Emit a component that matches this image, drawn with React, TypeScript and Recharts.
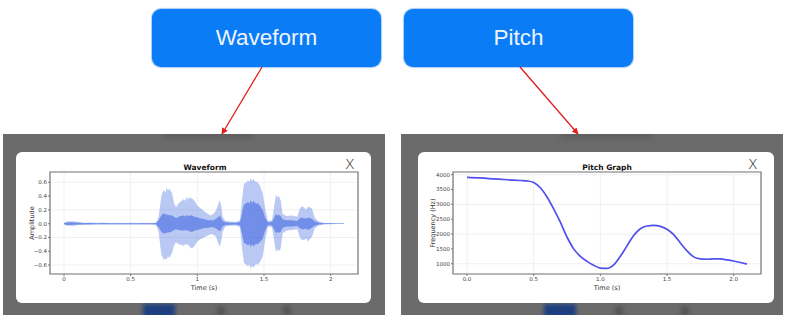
import React from 'react';
import { ComposedChart, Area, Line, XAxis, YAxis, CartesianGrid, ReferenceArea } from 'recharts';

// waveform envelope (seconds / amplitude)
const waveTime = [
  0.0, 0.02, 0.05, 0.08, 0.11, 0.15, 0.2, 0.25, 0.3, 0.35, 0.4, 0.45, 0.5, 0.55, 0.6, 0.65, 0.69,
  0.71, 0.73, 0.74, 0.75, 0.76, 0.77, 0.78, 0.79, 0.8, 0.81, 0.825, 0.84, 0.86, 0.88, 0.9, 0.91, 0.92, 0.93, 0.94, 0.96, 0.98,
  1.0, 1.02, 1.04, 1.06, 1.08, 1.1, 1.12, 1.14, 1.16, 1.17, 1.18, 1.19, 1.21, 1.25, 1.29, 1.32,
  1.335, 1.35, 1.37, 1.38, 1.39, 1.4, 1.41, 1.42, 1.44, 1.45, 1.47, 1.49, 1.51, 1.53, 1.56, 1.58, 1.59, 1.6, 1.61, 1.625, 1.64,
  1.67, 1.71, 1.75, 1.765, 1.78, 1.8, 1.815, 1.83, 1.86, 1.88, 1.91, 1.95, 2.0, 2.05, 2.1,
];
const waveHigh = [
  0.01, 0.03, 0.035, 0.03, 0.025, 0.015, 0.018, 0.012, 0.015, 0.01, 0.012, 0.01, 0.012, 0.01, 0.012, 0.01, 0.015,
  0.1, 0.4, 0.46, 0.49, 0.45, 0.52, 0.48, 0.51, 0.47, 0.45, 0.3, 0.24, 0.3, 0.33, 0.36, 0.33, 0.39, 0.35, 0.38, 0.37, 0.33,
  0.26, 0.23, 0.2, 0.17, 0.14, 0.12, 0.14, 0.19, 0.3, 0.34, 0.25, 0.1, 0.04, 0.03, 0.025, 0.05,
  0.35, 0.58, 0.6, 0.63, 0.6, 0.66, 0.62, 0.65, 0.6, 0.61, 0.55, 0.44, 0.2, 0.04, 0.05, 0.3, 0.42, 0.38, 0.4, 0.34, 0.14,
  0.11, 0.12, 0.1, 0.2, 0.25, 0.24, 0.2, 0.25, 0.22, 0.09, 0.03, 0.015, 0.01, 0.008, 0.005,
];
const waveLow = [
  -0.01, -0.03, -0.03, -0.03, -0.02, -0.015, -0.015, -0.012, -0.012, -0.01, -0.012, -0.01, -0.01, -0.01, -0.012, -0.01, -0.015,
  -0.12, -0.45, -0.49, -0.53, -0.5, -0.52, -0.47, -0.5, -0.46, -0.42, -0.32, -0.27, -0.3, -0.31, -0.32, -0.29, -0.31, -0.3, -0.33, -0.36, -0.32,
  -0.26, -0.23, -0.21, -0.19, -0.17, -0.15, -0.16, -0.19, -0.3, -0.33, -0.24, -0.12, -0.04, -0.03, -0.025, -0.05,
  -0.35, -0.57, -0.6, -0.62, -0.59, -0.65, -0.61, -0.64, -0.58, -0.6, -0.56, -0.48, -0.22, -0.04, -0.05, -0.3, -0.41, -0.37, -0.4, -0.36, -0.14,
  -0.1, -0.09, -0.08, -0.18, -0.23, -0.24, -0.21, -0.26, -0.19, -0.07, -0.025, -0.012, -0.008, -0.006, -0.005,
];
const coreHigh = [
  0.005, 0.018, 0.02, 0.018, 0.014, 0.01, 0.01, 0.008, 0.01, 0.007, 0.008, 0.007, 0.008, 0.007, 0.008, 0.007, 0.01,
  0.05, 0.12, 0.14, 0.15, 0.13, 0.14, 0.12, 0.13, 0.12, 0.12, 0.1, 0.08, 0.1, 0.11, 0.12, 0.1, 0.13, 0.11, 0.12, 0.12, 0.1,
  0.09, 0.08, 0.07, 0.06, 0.05, 0.05, 0.05, 0.07, 0.1, 0.12, 0.08, 0.04, 0.02, 0.015, 0.012, 0.025,
  0.15, 0.28, 0.3, 0.32, 0.29, 0.34, 0.3, 0.33, 0.29, 0.3, 0.26, 0.2, 0.08, 0.02, 0.025, 0.1, 0.14, 0.12, 0.13, 0.11, 0.06,
  0.05, 0.05, 0.04, 0.07, 0.09, 0.08, 0.07, 0.09, 0.07, 0.035, 0.015, 0.008, 0.006, 0.004, 0.003,
];
const coreLow = [
  -0.005, -0.018, -0.018, -0.016, -0.012, -0.01, -0.009, -0.008, -0.008, -0.007, -0.008, -0.007, -0.007, -0.007, -0.008, -0.007, -0.01,
  -0.05, -0.12, -0.13, -0.15, -0.13, -0.14, -0.12, -0.13, -0.12, -0.11, -0.09, -0.08, -0.09, -0.1, -0.1, -0.09, -0.1, -0.1, -0.11, -0.12, -0.1,
  -0.09, -0.08, -0.07, -0.06, -0.06, -0.05, -0.05, -0.07, -0.1, -0.11, -0.08, -0.04, -0.02, -0.015, -0.012, -0.025,
  -0.15, -0.28, -0.3, -0.32, -0.29, -0.34, -0.3, -0.33, -0.29, -0.3, -0.27, -0.22, -0.09, -0.02, -0.025, -0.1, -0.14, -0.12, -0.13, -0.12, -0.06,
  -0.04, -0.04, -0.035, -0.06, -0.08, -0.08, -0.07, -0.09, -0.06, -0.03, -0.012, -0.006, -0.004, -0.003, -0.003,
];

// pitch curve (seconds / Hz)
const pitchTime = [
  0.0, 0.1, 0.2, 0.3, 0.4, 0.45, 0.5, 0.55, 0.6, 0.65, 0.7, 0.75, 0.8, 0.85, 0.9, 0.95, 1.0, 1.05,
  1.1, 1.15, 1.2, 1.25, 1.3, 1.35, 1.4, 1.45, 1.5, 1.55, 1.6, 1.65, 1.7, 1.75, 1.8, 1.85, 1.9, 1.95,
  2.0, 2.05, 2.1,
];
const pitchHz = [
  3910, 3890, 3860, 3830, 3805, 3790, 3740, 3560, 3250, 2850, 2400, 1900, 1500, 1250, 1080, 950, 850, 840,
  960, 1250, 1600, 1950, 2180, 2270, 2290, 2260, 2160, 1980, 1700, 1430, 1230, 1160, 1150, 1160, 1160, 1130,
  1090, 1040, 990,
];

const waveTicksX = [0, 0.5, 1, 1.5, 2];
const waveTicksY = [-0.6, -0.4, -0.2, 0, 0.2, 0.4, 0.6];
const pitchTicksX = [0, 0.5, 1, 1.5, 2];
const pitchTicksY = [1000, 1500, 2000, 2500, 3000, 3500, 4000];

const waveData = waveTime.map((t, i) => ({
  t,
  outer: [waveLow[i], waveHigh[i]],
  core: [coreLow[i], coreHigh[i]],
}));
const pitchData = pitchTime.map((t, i) => ({ t, hz: pitchHz[i] }));

const font = 'DejaVu Sans, sans-serif';
const tickStyle = { fontSize: 5.5, fill: '#444', fontFamily: font };
const minus = (s: string) => s.replace('-', '\u2212');

const Panel = ({ left, children }: { left: number; children: React.ReactNode }) => (
  <div style={{ position: 'absolute', left, top: 134, width: 382, height: 181, background: '#6b6b6b', overflow: 'hidden' }}>
    <div style={{ position: 'absolute', left: 140 + (left > 100 ? 3 : 0), top: 170, width: 32, height: 14, background: '#1d3f80', filter: 'blur(2px)' }} />
    <div style={{ position: 'absolute', left: 214, top: 172, width: 8, height: 10, background: '#555', filter: 'blur(2px)' }} />
    <div style={{ position: 'absolute', left: 280, top: 172, width: 8, height: 10, background: '#555', filter: 'blur(2px)' }} />
    <div style={{ position: 'absolute', left: 160, top: -4, width: 90, height: 8, background: '#5c5c5c', filter: 'blur(3px)' }} />
    {children}
  </div>
);

const Card = ({ left, width, title, children }: { left: number; width: number; title: string; children: React.ReactNode }) => (
  <div style={{ position: 'absolute', left, top: 18, width, height: 151, background: '#fff', borderRadius: 6 }}>
    <div style={{ position: 'absolute', left: 0, width: 2 * 189, top: 11, textAlign: 'center', fontFamily: font, fontWeight: 'bold', fontSize: 7.5, color: '#111' }}>
      {title}
    </div>
    <div style={{ position: 'absolute', left: width - 26, top: 4, fontFamily: font, fontSize: 14, color: '#111', fontWeight: 300 }}>X</div>
    {children}
  </div>
);

const WaveChart = () => (
  <ComposedChart width={355} height={151} data={waveData} margin={{ top: 20, right: 13, bottom: 0, left: 0 }}>
    <CartesianGrid stroke="#ececec" strokeWidth={0.8} />
    <XAxis
      dataKey="t"
      type="number"
      domain={[-0.105, 2.205]}
      ticks={waveTicksX}
      allowDataOverflow
      height={29}
      tick={tickStyle}
      tickSize={2}
      tickMargin={1}
      axisLine={false}
      tickLine={{ stroke: '#777' }}
      label={{ value: 'Time (s)', position: 'insideBottom', offset: 13, fontSize: 6.5, fill: '#333', fontFamily: font }}
    />
    <YAxis
      type="number"
      domain={[-0.73, 0.75]}
      ticks={waveTicksY}
      allowDataOverflow
      width={34}
      tick={tickStyle}
      tickSize={2}
      tickMargin={1}
      axisLine={false}
      tickLine={{ stroke: '#777' }}
      tickFormatter={(v: number) => minus(v.toFixed(1))}
      label={{ value: 'Amplitude', angle: -90, position: 'insideLeft', offset: 16, fontSize: 6.5, fill: '#333', fontFamily: font, style: { textAnchor: 'middle' } }}
    />
    <Area dataKey="outer" type="linear" fill="#4169e1" fillOpacity={0.36} stroke="none" isAnimationActive={false} />
    <Area dataKey="core" type="linear" fill="#4169e1" fillOpacity={0.6} stroke="none" isAnimationActive={false} />
    <ReferenceArea x1={-0.105} x2={2.205} y1={-0.73} y2={0.75} fill="none" stroke="#777" strokeWidth={1.2} />
  </ComposedChart>
);

const PitchChart = () => (
  <ComposedChart width={356} height={151} data={pitchData} margin={{ top: 20, right: 13, bottom: 0, left: 0 }}>
    <CartesianGrid stroke="#ececec" strokeWidth={0.8} />
    <XAxis
      dataKey="t"
      type="number"
      domain={[-0.105, 2.205]}
      ticks={pitchTicksX}
      allowDataOverflow
      height={29}
      tick={tickStyle}
      tickSize={2}
      tickMargin={1}
      axisLine={false}
      tickLine={{ stroke: '#777' }}
      tickFormatter={(v: number) => v.toFixed(1)}
      label={{ value: 'Time (s)', position: 'insideBottom', offset: 13, fontSize: 6.5, fill: '#333', fontFamily: font }}
    />
    <YAxis
      type="number"
      domain={[653, 4091]}
      ticks={pitchTicksY}
      allowDataOverflow
      width={35}
      tick={tickStyle}
      tickSize={2}
      tickMargin={1}
      axisLine={false}
      tickLine={{ stroke: '#777' }}
      label={{ value: 'Frequency (Hz)', angle: -90, position: 'insideLeft', offset: 15, fontSize: 6.5, fill: '#333', fontFamily: font, style: { textAnchor: 'middle' } }}
    />
    <Line dataKey="hz" type="monotone" stroke="#5050ee" strokeWidth={1.7} dot={false} isAnimationActive={false} />
    <ReferenceArea x1={-0.105} x2={2.205} y1={653} y2={4091} fill="none" stroke="#777" strokeWidth={1.2} />
  </ComposedChart>
);

const buttonStyle = (left: number): React.CSSProperties => ({
  position: 'absolute',
  left,
  top: 9,
  width: 229,
  height: 58,
  background: '#0a7cf6',
  borderRadius: 9,
  boxShadow: '0 0 1px 1px #a8cdf8',
  color: '#eef4ff',
  fontFamily: 'Liberation Sans, Arial, sans-serif',
  fontSize: 22.5,
  lineHeight: '58px',
  textAlign: 'center',
});

export default function App() {
  return (
    <div style={{ position: 'absolute', left: 0, top: 0, width: 800, height: 318, background: '#fff', overflow: 'hidden' }}>
      <div style={buttonStyle(152)}>Waveform</div>
      <div style={buttonStyle(404)}>Pitch</div>

      <Panel left={3}>
        <Card left={13} width={355} title="Waveform">
          <WaveChart />
        </Card>
      </Panel>
      <Panel left={401}>
        <Card left={17} width={356} title="Pitch Graph">
          <PitchChart />
        </Card>
      </Panel>

      <svg width={800} height={318} style={{ position: 'absolute', left: 0, top: 0, pointerEvents: 'none' }}>
        <defs>
          <marker id="head" viewBox="0 0 10 10" refX="9" refY="5" markerWidth="5" markerHeight="5" orient="auto">
            <path d="M0,0 L10,5 L0,10 z" fill="#e51c1c" />
          </marker>
        </defs>
        <line x1={262} y1={67} x2={222} y2={134} stroke="#e51c1c" strokeWidth={1.3} markerEnd="url(#head)" />
        <line x1={520} y1={67} x2={578} y2={134} stroke="#e51c1c" strokeWidth={1.3} markerEnd="url(#head)" />
      </svg>
    </div>
  );
}
